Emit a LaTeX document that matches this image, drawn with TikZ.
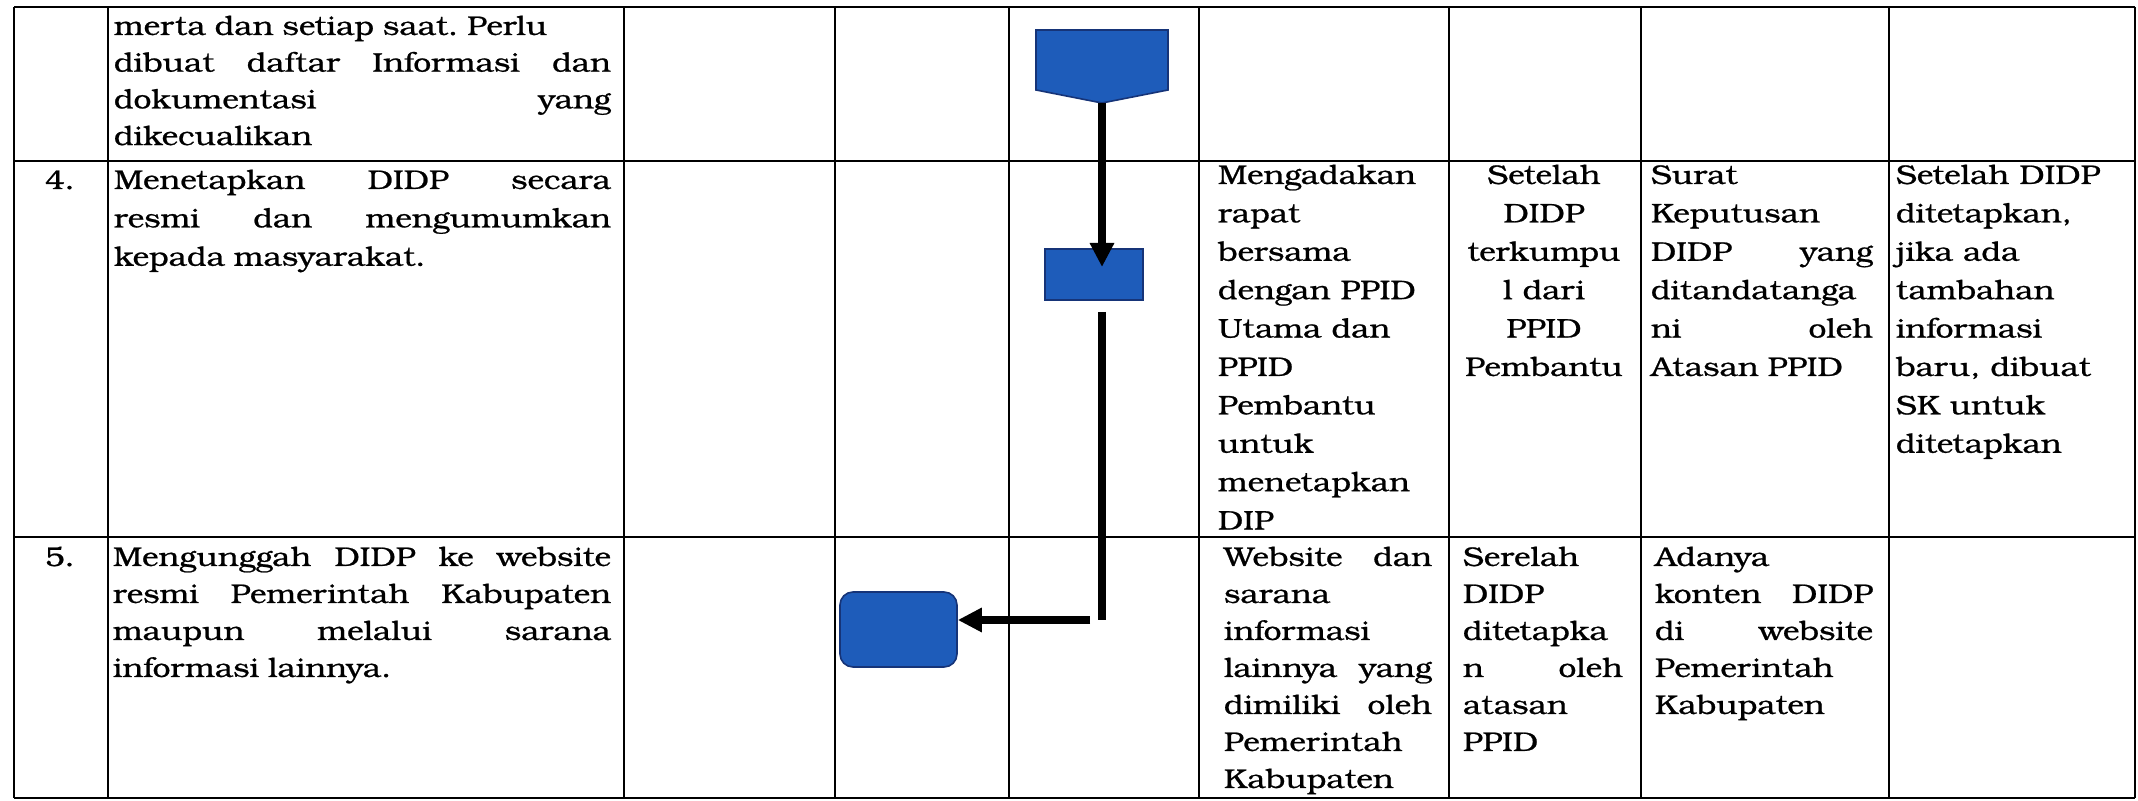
\documentclass[tikz,border=0pt]{standalone}
\usepackage{fontspec}
\setmainfont[FakeStretch=1.17, FakeBold=0.8]{TeX Gyre Bonum}
\usetikzlibrary{arrows.meta}

\definecolor{flowfill}{RGB}{30,92,186}
\definecolor{flowedge}{RGB}{22,52,120}

% cell text; the optional argument is the leading in pt
\newcommand\cellfont[1][19]{\fontsize{13.5}{#1}\selectfont\parindent=0pt\frenchspacing}
% a fully justified line: words separated by \hfill fill the text width
\newcommand\jline[1]{\leavevmode\hbox to\hsize{#1}}

\begin{document}
\begin{tikzpicture}[x=0.5pt,y=-0.5pt,
  grid/.style={line width=1.1pt, black},
  cell/.style={anchor=north west, inner sep=0pt, outer sep=0pt, align=left, font=\cellfont[#1]},
  cell/.default=19,
  ccell/.style={anchor=north, inner sep=0pt, outer sep=0pt, align=center, font=\cellfont[#1]},
  ccell/.default=19,
  flowshape/.style={fill=flowfill, draw=flowedge, line width=0.8pt},
  flow/.style={line width=4pt, black},
  flowarrow/.style={flow, -{Triangle[width=11.5pt,length=12pt]}},
]
\useasboundingbox (0,0) rectangle (2138,801);
\fill[white] (0,0) rectangle (2138,801);

% table rules
\foreach \y in {7,161,537,798}
  \draw[grid] (14,\y) -- (2135,\y);
\foreach \x in {14,108,624,835,1009,1199,1449,1641,1889,2135}
  \draw[grid] (\x,7) -- (\x,798);

% node tops: first baseline minus the strut height (0.7 of the leading, in px)
\def\rowa{35-25.69}   % leading 18.35pt
\def\rowbl{189-26.88} % leading 19.2pt
\def\rowb{184-26.88}  % leading 19.2pt
\def\rowc{566-25.9}   % leading 18.5pt

% row 3 (continued)
\node[cell=18.35, text width=248.5pt] (r3desc) at (114,{\rowa})
  {\strut merta dan setiap saat. Perlu\\
   \jline{dibuat\hfill daftar\hfill Informasi\hfill dan}\\
   \jline{dokumentasi\hfill yang}\\
   dikecualikan};

% row 4
\node[cell=19.2] (n4) at (45,{\rowbl}) {\strut 4.};
\node[cell=19.2, text width=248.5pt] (r4desc) at (114,{\rowbl})
  {\strut\jline{Menetapkan\hfill DIDP\hfill secara}\\
   \jline{resmi\hfill dan\hfill mengumumkan}\\
   kepada masyarakat.};
\node[cell=19.2] (r4act) at (1218,{\rowb})
  {\strut Mengadakan\\ rapat\\ bersama\\ dengan PPID\\ Utama dan\\ PPID\\ Pembantu\\ untuk\\ menetapkan\\ DIP};
\node[ccell=19.2] (r4time) at (1544,{\rowb})
  {\strut Setelah\\ DIDP\\ terkumpu\\ l dari\\ PPID\\ Pembantu};
\node[cell=19.2, text width=111pt] (r4out) at (1651,{\rowb})
  {\strut Surat\\ Keputusan\\ \jline{DIDP\hfill yang}\\ ditandatanga\\ \jline{ni\hfill oleh}\\ Atasan PPID};
\node[cell=19.2] (r4note) at (1896,{\rowb})
  {\strut Setelah DIDP\\ ditetapkan,\\ jika ada\\ tambahan\\ informasi\\ baru, dibuat\\ SK untuk\\ ditetapkan};

% row 5
\node[cell=18.5] (n5) at (45,{\rowc}) {\strut 5.};
\node[cell=18.5, text width=249pt] (r5desc) at (113,{\rowc})
  {\strut\jline{Mengunggah\hfill DIDP\hfill ke\hfill website}\\
   \jline{resmi\hfill Pemerintah\hfill Kabupaten}\\
   \jline{maupun\hfill melalui\hfill sarana}\\
   informasi lainnya.};
\node[cell=18.5, text width=104pt] (r5act) at (1224,{\rowc})
  {\strut\jline{Website\hfill dan}\\ sarana\\ informasi\\ \jline{lainnya\hfill yang}\\ \jline{dimiliki\hfill oleh}\\ Pemerintah\\ Kabupaten};
\node[cell=18.5, text width=80pt] (r5time) at (1463,{\rowc})
  {\strut Serelah\\ DIDP\\ ditetapka\\ \jline{n\hfill oleh}\\ atasan\\ PPID};
\node[cell=18.5, text width=109pt] (r5out) at (1655,{\rowc})
  {\strut Adanya\\ \jline{konten\hfill DIDP}\\ \jline{di\hfill website}\\ Pemerintah\\ Kabupaten};

% flow symbols
\node[minimum width=66pt, minimum height=36.5pt, inner sep=0pt, outer sep=0pt] (off) at (1102,66.5) {};
\draw[flowshape] (off.north west) -- (off.north east) -- ([yshift=6.5pt]off.south east)
  -- (off.south) -- ([yshift=6.5pt]off.south west) -- cycle;
\node[flowshape, minimum width=49pt, minimum height=25.5pt, inner sep=0pt] (proc) at (1094,274.5) {};
\node[flowshape, rounded corners=6.5pt, minimum width=58.5pt, minimum height=37.5pt, inner sep=0pt] (term) at (898.5,629.5) {};

% connectors
\coordinate (procin) at (1102,267);
\coordinate (procout) at (1102,312);
\coordinate (turn) at (1102,620);
\draw[flowarrow] (off.south) -- (procin);
\draw[flow] (procout) -- (turn);
\draw[flowarrow] ([xshift=-6pt]turn) -- (term.east |- turn);
\end{tikzpicture}
\end{document}
